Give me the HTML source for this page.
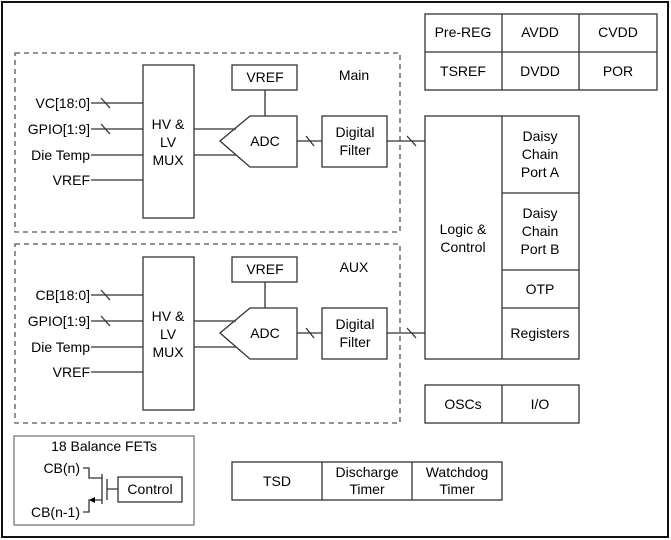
<!DOCTYPE html>
<html><head><style>body{margin:0;background:#fff}svg{display:block}text{font-family:"Liberation Sans",sans-serif;font-size:14px;fill:#000}</style></head><body>
<svg width="671" height="540" viewBox="0 0 671 540" xmlns="http://www.w3.org/2000/svg">
<g fill="none" stroke="#333" stroke-width="1.3">
<rect x="2" y="2" width="666" height="535" stroke="#111" stroke-width="2"/>
<rect x="15" y="53" width="385" height="179" stroke-dasharray="5,4" stroke="#555"/>
<rect x="15" y="244" width="385" height="179" stroke-dasharray="5,4" stroke="#555"/>
<rect x="425" y="14" width="232" height="76"/><line x1="425" y1="52" x2="657" y2="52"/><line x1="502" y1="14" x2="502" y2="90"/><line x1="579" y1="14" x2="579" y2="90"/>
<rect x="425" y="116" width="154" height="243"/><line x1="502" y1="116" x2="502" y2="359"/>
<line x1="502" y1="193" x2="579" y2="193"/><line x1="502" y1="270" x2="579" y2="270"/><line x1="502" y1="308" x2="579" y2="308"/>
<rect x="425" y="385" width="154" height="38"/><line x1="502" y1="385" x2="502" y2="423"/>
<rect x="14" y="436" width="180" height="89" stroke="#777"/>
<rect x="118" y="477" width="64" height="25"/>
<path d="M83 468H89V478H102M102 474V504M107 479V500M107 489H118M102 500H89V512H83"/>
<rect x="232" y="462" width="270" height="38"/><line x1="322" y1="462" x2="322" y2="500"/><line x1="412" y1="462" x2="412" y2="500"/>
</g>
<polygon points="89,500 95,497 95,503" fill="#000"/>
<g id="m" fill="none" stroke="#333" stroke-width="1.3">
<rect x="143" y="65" width="51" height="153"/>
<line x1="91" y1="103" x2="143" y2="103"/><line x1="101" y1="98" x2="110" y2="108"/>
<line x1="91" y1="129" x2="143" y2="129"/><line x1="101" y1="124" x2="110" y2="134"/>
<line x1="91" y1="155" x2="143" y2="155"/><line x1="91" y1="180" x2="143" y2="180"/>
<rect x="232" y="65" width="65" height="25"/><line x1="265" y1="90" x2="265" y2="116"/>
<polygon points="250,116 297,116 297,167 250,167 220,141"/>
<line x1="194" y1="129" x2="236" y2="129"/><line x1="194" y1="155" x2="236" y2="155"/>
<rect x="322" y="116" width="65" height="51"/>
<line x1="297" y1="141" x2="322" y2="141"/><line x1="306" y1="136" x2="314" y2="146"/>
<line x1="387" y1="141" x2="425" y2="141"/><line x1="407" y1="136" x2="416" y2="146"/>
</g>
<use href="#m" y="192"/>
<g text-anchor="middle">
<text x="463" y="37">Pre-REG</text><text x="540" y="37">AVDD</text><text x="618" y="37">CVDD</text>
<text x="463" y="76">TSREF</text><text x="540" y="76">DVDD</text><text x="618" y="76">POR</text>
<text x="463" y="234">Logic &amp;</text><text x="463" y="252">Control</text>
<text x="540" y="141">Daisy</text><text x="540" y="159">Chain</text><text x="540" y="177">Port A</text>
<text x="540" y="218">Daisy</text><text x="540" y="236">Chain</text><text x="540" y="254">Port B</text>
<text x="540" y="294">OTP</text><text x="540" y="338">Registers</text>
<text x="463" y="409">OSCs</text><text x="540" y="409">I/O</text>
<text x="104" y="451">18 Balance FETs</text><text x="150" y="494">Control</text>
<text x="277" y="486">TSD</text><text x="367" y="477">Discharge</text><text x="367" y="494">Timer</text>
<text x="457" y="477">Watchdog</text><text x="457" y="494">Timer</text>
<text x="168" y="129">HV &amp;</text><text x="168" y="147">LV</text><text x="168" y="165">MUX</text>
<text x="168" y="321">HV &amp;</text><text x="168" y="339">LV</text><text x="168" y="357">MUX</text>
<text x="265" y="82">VREF</text><text x="265" y="274">VREF</text>
<text x="265" y="146">ADC</text><text x="265" y="338">ADC</text>
<text x="355" y="137">Digital</text><text x="355" y="155">Filter</text>
<text x="355" y="329">Digital</text><text x="355" y="347">Filter</text>
<text x="354" y="80">Main</text><text x="354" y="272">AUX</text>
</g>
<g text-anchor="end">
<text x="90" y="108">VC[18:0]</text><text x="90" y="134">GPIO[1:9]</text><text x="90" y="160">Die Temp</text><text x="90" y="185">VREF</text>
<text x="90" y="300">CB[18:0]</text><text x="90" y="326">GPIO[1:9]</text><text x="90" y="352">Die Temp</text><text x="90" y="377">VREF</text>
<text x="80" y="473">CB(n)</text><text x="80" y="517">CB(n-1)</text>
</g>
</svg>
</body></html>
